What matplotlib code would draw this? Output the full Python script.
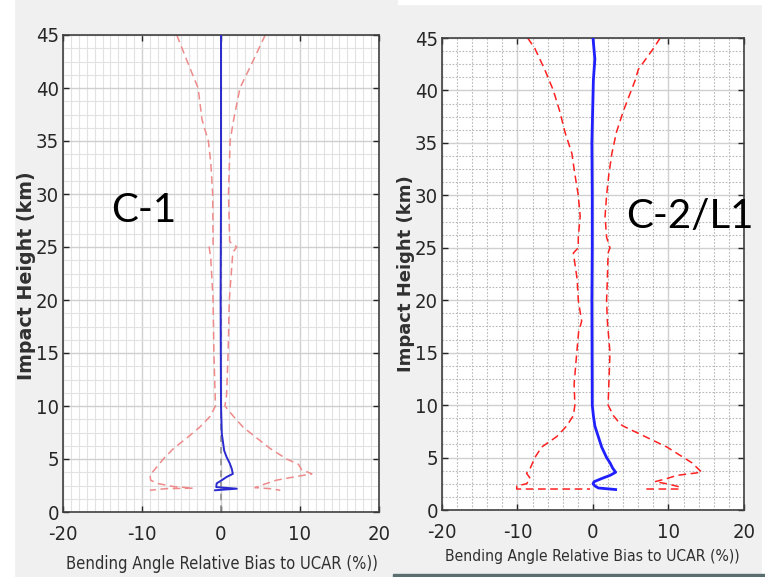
import matplotlib
matplotlib.use("Agg")
import matplotlib.pyplot as plt
from matplotlib.ticker import MultipleLocator
from matplotlib.patches import Rectangle
from matplotlib import font_manager
from matplotlib.font_manager import FontProperties

# ---------------- data ----------------
xticks = [-20, -10, 0, 10, 20]
yticks = [0, 5, 10, 15, 20, 25, 30, 35, 40, 45]
xlabel = "Bending Angle Relative Bias to UCAR (%))"
ylabel = "Impact Height (km)"
title_left = "C-1"
title_right = "C-2/L1"

# C-1 panel
c1_mean_h = [45, 40, 30, 20, 10, 7.4, 5.8, 5.2, 4.6, 4.1, 3.6, 3.3, 3.0, 2.7, 2.35, 2.2, 2.05]
c1_mean_x = [0.0, 0.0, 0.0, -0.05, 0.0, 0.1, 0.4, 0.7, 1.1, 1.35, 1.5, 0.7, 0.1, -0.55, -0.6, 2.0, -0.75]
c1_lo_h = [45, 42, 40, 37, 35, 33, 30, 25.1, 25, 24, 20, 15, 10, 9, 8, 7, 6, 5, 4, 3.5, 3, 2.7, 2.4, 2.25, 2.2, 2.05]
c1_lo_x = [-5.6, -4.0, -2.9, -2.4, -1.6, -1.3, -1.05, -1.0, -1.5, -1.3, -1.0, -0.9, -0.7, -1.4, -2.7, -4.3, -6.0, -7.3, -8.4, -9.0, -8.9, -8.1, -6.0, -3.5, -7.0, -9.0]
c1_hi_h = [45, 42, 40, 37, 35, 30, 25.5, 25, 24.5, 20, 15, 11, 10, 9, 8, 7, 6, 5, 4.5, 4, 3.6, 3.3, 3.0, 2.6, 2.3, 2.2, 2.05]
c1_hi_x = [5.6, 3.7, 2.4, 1.6, 1.15, 0.95, 1.1, 2.0, 1.5, 1.05, 0.9, 0.7, 0.5, 1.6, 2.8, 4.5, 6.2, 8.3, 9.8, 10.2, 11.5, 9.2, 7.0, 5.4, 4.3, 6.2, 7.5]

# C-2/L1 panel
c2_mean_h = [45, 43, 41, 35, 30, 25, 20, 10, 9, 8, 7, 6, 5, 4.5, 4, 3.6, 3.3, 3.0, 2.7, 2.5, 2.3, 2.1, 1.95]
c2_mean_x = [0.0, 0.25, 0.05, -0.15, -0.1, -0.1, -0.15, -0.1, 0.05, 0.25, 0.7, 1.15, 1.8, 2.25, 2.6, 3.0, 2.25, 1.15, 0.15, 0.0, 0.25, 0.7, 3.0]
c2_lo_h = [45, 44, 42, 40, 38, 36, 34, 32, 30, 28, 26, 25, 24.5, 22, 20, 18, 17, 15, 12, 10, 9, 8, 7, 6, 5, 4, 3.5, 3, 2.5, 2.3, 2.0, 2.0]
c2_lo_x = [-8.65, -7.7, -6.4, -5.25, -4.4, -3.7, -2.8, -2.4, -1.95, -1.7, -1.95, -1.95, -2.6, -2.1, -1.95, -1.5, -1.9, -2.15, -2.5, -2.4, -2.6, -3.5, -4.8, -6.8, -7.7, -8.3, -8.8, -8.3, -8.8, -10.1, -10.1, -0.4]
c2_hi_h = [45, 44, 42, 41, 38, 36, 34, 32, 30, 28, 26, 25, 24.5, 22, 20, 18, 15, 12, 10, 9, 8.2, 8, 7, 6, 5, 4.5, 3.6, 3.3, 3.0, 2.7, 2.5, 2.2, 2.0, 2.0]
c2_hi_x = [8.9, 8.0, 6.0, 5.6, 4.0, 3.1, 2.5, 2.1, 1.8, 1.6, 1.8, 2.25, 2.0, 1.9, 1.8, 1.9, 2.25, 2.1, 2.0, 2.7, 3.6, 4.0, 6.9, 9.8, 12.0, 13.1, 14.4, 11.1, 9.8, 8.2, 9.8, 11.5, 11.5, 6.7]

# ---------------- fonts ----------------
def find_narrow():
    prefs = ["Liberation Sans Narrow", "DejaVu Sans Condensed", "Roboto Condensed",
             "Open Sans Condensed", "Noto Sans Condensed"]
    cands = []
    for f in font_manager.fontManager.ttflist:
        nm = f.name
        st = str(f.stretch).lower()
        fn = f.fname.lower()
        if f.style != "normal":
            continue
        if f.weight not in (400, "normal", "regular"):
            continue
        if "narrow" in nm.lower() or "condensed" in nm.lower() or "condensed" in st \
                or ("condensed" in fn and "bold" not in fn and "oblique" not in fn and "mono" not in fn
                    and "serif" not in fn.split("/")[-1]):
            cands.append(f)
    if cands:
        def rank(f):
            for i, p in enumerate(prefs):
                if p.lower() in f.name.lower() or p.replace(" ", "").lower() in f.fname.lower().replace("-", ""):
                    return i
            return len(prefs)
        cands.sort(key=rank)
        return FontProperties(fname=cands[0].fname)
    return FontProperties(family="Lato")

names = {f.name for f in font_manager.fontManager.ttflist}
big = "Lato" if "Lato" in names else "DejaVu Sans"
fp_narrow = find_narrow()

W, H = 765, 577
fig = plt.figure(figsize=(W / 100, H / 100), dpi=100)
fig.patch.set_facecolor("#f0f0f0")
fig.add_artist(Rectangle((0, 0), 14 / W, 1, transform=fig.transFigure, color="white", zorder=0))
fig.add_artist(Rectangle((398 / W, 1 - 4 / H), 1, 4 / H, transform=fig.transFigure, color="white", zorder=0))
fig.add_artist(Rectangle((762 / W, 0), 3 / W, 1, transform=fig.transFigure, color="white", zorder=0))
fig.add_artist(Rectangle((393 / W, 0), 1, 3 / H, transform=fig.transFigure, color="#5a6e70", zorder=0))


def px_axes(x0, y0, x1, y1):
    return fig.add_axes([x0 / W, 1 - y1 / H, (x1 - x0) / W, (y1 - y0) / H])


def style(ax, minor_x, minor_y, minor_ls, minor_col, tick_size):
    ax.set_xlim(-20, 20)
    ax.set_ylim(0, 45)
    tp = fp_narrow.copy()
    tp.set_size(tick_size)
    ax.set_xticks(xticks, labels=[str(v) for v in xticks], fontproperties=tp)
    ax.set_yticks(yticks, labels=[str(v) for v in yticks], fontproperties=tp)
    ax.xaxis.set_minor_locator(MultipleLocator(minor_x))
    ax.yaxis.set_minor_locator(MultipleLocator(minor_y))
    ax.set_facecolor("white")
    ax.grid(True, which="major", color="#d0d0d0", lw=1.0, ls="-", zorder=0)
    ax.grid(True, which="minor", color=minor_col, lw=0.8, ls=minor_ls, zorder=0)
    ax.set_axisbelow(True)
    ax.tick_params(which="major", direction="in", length=4, width=1.0, top=True, right=True,
                   colors="#262626")
    ax.tick_params(axis="x", which="major", pad=9)
    ax.tick_params(axis="y", which="major", pad=3)
    ax.tick_params(which="minor", length=0)
    for s in ax.spines.values():
        s.set_color("#404040")
        s.set_linewidth(1.2)


def fig_text_px(x, y, s, **kw):
    return fig.text(x / W, 1 - y / H, s, **kw)


# ---- left panel (C-1) ----
ax1 = px_axes(63, 35, 379, 512)
style(ax1, 1, 1.25, "-", "#e2e2e2", 14.5)
ax1.axvline(0, color="#909090", ls=(0, (4, 3)), lw=1.2, zorder=1)
ax1.plot(c1_lo_x, c1_lo_h, color="#ee8a8a", ls=(0, (5, 3)), lw=1.1, zorder=2)
ax1.plot(c1_hi_x, c1_hi_h, color="#ee8a8a", ls=(0, (5, 3)), lw=1.1, zorder=2)
ax1.plot(c1_mean_x, c1_mean_h, color="#2a2ad0", lw=1.4, zorder=3)
xl1 = fig_text_px(221.5, 564, xlabel, fontproperties=fp_narrow, fontsize=15, color="#303030",
                  ha="center", va="center")
yl1 = fig_text_px(27, 276, ylabel, family="DejaVu Sans", fontsize=14, fontweight="bold",
                  color="#303030", rotation=90, ha="center", va="center")
fig_text_px(111, 210, title_left, family=big, fontsize=29, color="black", va="center", ha="left")

# ---- right panel (C-2/L1) ----
ax2 = px_axes(442, 38, 744, 510)
style(ax2, 2, 1.25, (0, (1.5, 1.5)), "#b8b8b8", 14.5)
ax2.plot(c2_lo_x, c2_lo_h, color="#ff2020", ls=(0, (5, 3)), lw=1.1, zorder=2)
ax2.plot(c2_hi_x, c2_hi_h, color="#ff2020", ls=(0, (5, 3)), lw=1.1, zorder=2)
ax2.plot(c2_mean_x, c2_mean_h, color="#2020ff", lw=2.0, zorder=3)
xl2 = fig_text_px(592.5, 556, xlabel, fontproperties=fp_narrow, fontsize=15, color="#303030",
                  ha="center", va="center")
yl2 = fig_text_px(406, 273.5, ylabel, family="DejaVu Sans", fontsize=13.4, fontweight="bold",
                  color="#303030", rotation=90, ha="center", va="center")
fig_text_px(626, 217, title_right, family=big, fontsize=29, color="black", va="center", ha="left")

# fit label sizes to the measured pixel extents of the reference
fig.canvas.draw()
r = fig.canvas.get_renderer()
for t, target, horiz in [(xl1, 313, True), (xl2, 295, True), (yl1, 208, False), (yl2, 198, False)]:
    bb = t.get_window_extent(r)
    cur = bb.width if horiz else bb.height
    t.set_fontsize(t.get_fontsize() * target / cur)

fig.savefig("out.png", dpi=100, facecolor=fig.get_facecolor())
